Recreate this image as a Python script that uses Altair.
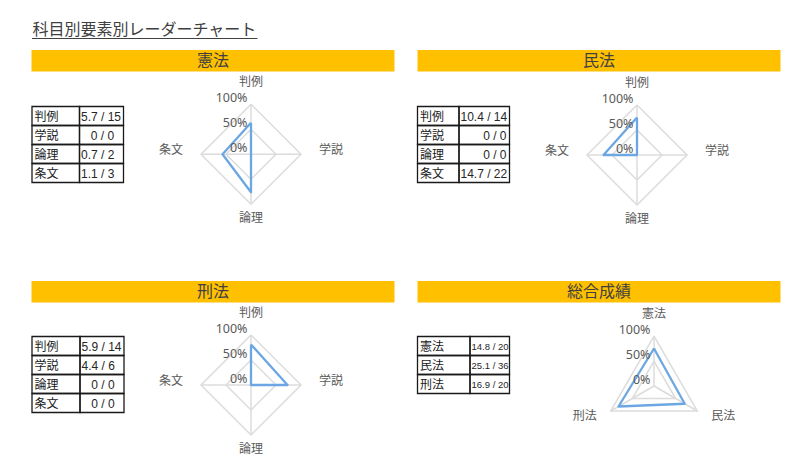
import math
import altair as alt
import pandas as pd

# ---------------- data ----------------
TITLE = "科目別要素別レーダーチャート"
ELEMENTS = ["判例", "学説", "論理", "条文"]
SUBJECTS = ["憲法", "民法", "刑法"]
TOTAL_HEADER = "総合成績"

KENPO_SCORES = ["5.7 / 15", "0 / 0", "0.7 / 2", "1.1 / 3"]
MINPO_SCORES = ["10.4 / 14", "0 / 0", "0 / 0", "14.7 / 22"]
KEIHO_SCORES = ["5.9 / 14", "4.4 / 6", "0 / 0", "0 / 0"]
TOTAL_SCORES = ["14.8 / 20", "25.1 / 36", "16.9 / 20"]

# share of each element as drawn on the radar
KENPO_RATIO = [0.63, 0.0, 0.76, 0.57]
MINPO_RATIO = [0.75, 0.0, 0.0, 0.67]
KEIHO_RATIO = [0.81, 0.73, 0.0, 0.0]
TOTAL_RATIO = [0.75, 0.71, 0.82]

TICK_VALUES = [0.0, 0.5, 1.0]
TICK_LABELS = ["0%", "50%", "100%"]
GRID_RINGS = [0.5, 1.0]

# ---------------- layout / style ----------------
W, H = 794, 454
R = 50
ROW_H = 19
ORANGE = "#FFC000"
BLUE = "#6CA7E3"
GRID = "#DCDCDC"
DARK = "#404040"
GREY = "#595959"
JP = "Noto Sans CJK JP"

PANELS = [
    dict(header=SUBJECTS[0], cats=ELEMENTS, ratio=KENPO_RATIO, scores=KENPO_SCORES,
         bar=(31.5, 394.5, 50.0, 71.5), cols=(32.0, 79.5, 123.5), top=106.5,
         center=(251.0, 154.3), align=["left", "center", "left", "left"], vsize=12),
    dict(header=SUBJECTS[1], cats=ELEMENTS, ratio=MINPO_RATIO, scores=MINPO_SCORES,
         bar=(417.5, 780.5, 50.0, 71.5), cols=(417.5, 459.0, 509.5), top=106.5,
         center=(637.0, 155.0), align=["left", "right", "right", "left"], vsize=12),
    dict(header=SUBJECTS[2], cats=ELEMENTS, ratio=KEIHO_RATIO, scores=KEIHO_SCORES,
         bar=(31.5, 394.5, 281.0, 302.5), cols=(32.0, 80.0, 124.0), top=336.5,
         center=(251.0, 385.0), align=["left", "left", "center", "center"], vsize=12),
    dict(header=TOTAL_HEADER, cats=SUBJECTS, ratio=TOTAL_RATIO, scores=TOTAL_SCORES,
         bar=(417.5, 780.5, 281.0, 302.5), cols=(417.5, 470.0, 509.5), top=336.5,
         center=(654.0, 386.0), align=["left", "left", "left"], vsize=9.5),
]

bars, headers, cells, labels, values = [], [], [], [], []
rings, spokes, poly, cats, ticks = [], [], [], [], []

for p_i, p in enumerate(PANELS):
    x0, x1, y0, y1 = p["bar"]
    bars.append(dict(px=x0, px2=x1, py=y0, py2=y1))
    headers.append(dict(px=(x0 + x1) / 2, py=(y0 + y1) / 2 + 0.5, text=p["header"]))
    c0, c1, c2 = p["cols"]
    for i, (cat, sc, al) in enumerate(zip(p["cats"], p["scores"], p["align"])):
        ty = p["top"] + i * ROW_H
        cells.append(dict(px=c0, px2=c1, py=ty, py2=ty + ROW_H))
        cells.append(dict(px=c1, px2=c2, py=ty, py2=ty + ROW_H))
        cy_row = ty + ROW_H / 2 + 0.5
        labels.append(dict(px=c0 + 2.5, py=cy_row, text=cat))
        ax = {"left": c1 + 1.5, "center": (c1 + c2) / 2 + 1, "right": c2 - 3}[al]
        values.append(dict(px=ax, py=cy_row, text=sc, fs=p["vsize"], al=al))
    cx, cy = p["center"]
    n = len(p["cats"])
    angles = [2 * math.pi * k / n for k in range(n)]
    for lvl in GRID_RINGS:
        for k in range(n + 1):
            a = angles[k % n]
            rings.append(dict(px=cx + R * lvl * math.sin(a), py=cy - R * lvl * math.cos(a),
                              grp=f"{p_i}-{lvl}", ord=k))
    for k, a in enumerate(angles):
        spokes.append(dict(px=cx, py=cy, px2=cx + R * math.sin(a), py2=cy - R * math.cos(a)))
        cats.append(dict(px=cx + 80 * math.sin(a), py=cy - 68 * math.cos(a) - 4,
                         text=p["cats"][k]))
    for k in range(n + 1):
        a = angles[k % n]
        v = p["ratio"][k % n]
        poly.append(dict(px=cx + R * v * math.sin(a), py=cy - R * v * math.cos(a),
                         grp=str(p_i), ord=k))
    for v, t in zip(TICK_VALUES, TICK_LABELS):
        ticks.append(dict(px=cx - 3.5, py=cy - R * v - 6, text=t))

XS = alt.Scale(domain=[8, 8 + W], nice=False, zero=False)
YS = alt.Scale(domain=[8, 8 + H], nice=False, zero=False, reverse=True)


def xy(**extra):
    enc = dict(x=alt.X("px:Q", scale=XS, axis=None), y=alt.Y("py:Q", scale=YS, axis=None))
    enc.update(extra)
    return enc


df = pd.DataFrame

title = alt.Chart(df([dict(px=32.5, py=29.5, text=TITLE)])).mark_text(
    align="left", baseline="middle", font=JP, fontSize=16, color=DARK
).encode(**xy(text="text:N"))
underline = alt.Chart(df([dict(px=32.0, px2=257.5, py=38.5)])).mark_rule(
    color=DARK, strokeWidth=1
).encode(**xy(x2=alt.X2("px2")))

bar_l = alt.Chart(df(bars)).mark_rect(color=ORANGE).encode(
    **xy(x2=alt.X2("px2"), y2=alt.Y2("py2")))
head_l = alt.Chart(df(headers)).mark_text(
    align="center", baseline="middle", font=JP, fontSize=16, color=DARK
).encode(**xy(text="text:N"))

cell_l = alt.Chart(df(cells)).mark_rect(
    fill="white", fillOpacity=0, stroke="#1a1a1a", strokeWidth=1.3
).encode(**xy(x2=alt.X2("px2"), y2=alt.Y2("py2")))
lab_l = alt.Chart(df(labels)).mark_text(
    align="left", baseline="middle", font=JP, fontSize=12, color="#1a1a1a"
).encode(**xy(text="text:N"))

vdf = df(values)
val_layers = []
for al in ["left", "center", "right"]:
    sub = vdf[vdf["al"] == al]
    if len(sub):
        val_layers.append(
            alt.Chart(sub).mark_text(
                align=al, baseline="middle", font="Liberation Sans", color="#262626"
            ).encode(**xy(text="text:N", size=alt.Size("fs:Q", scale=None)))
        )

ring_l = alt.Chart(df(rings)).mark_line(color=GRID, strokeWidth=1.5).encode(
    **xy(detail="grp:N", order=alt.Order("ord:Q")))
spoke_l = alt.Chart(df(spokes)).mark_rule(color=GRID, strokeWidth=1.5).encode(
    **xy(x2=alt.X2("px2"), y2=alt.Y2("py2")))
poly_l = alt.Chart(df(poly)).mark_line(
    color=BLUE, strokeWidth=2.3, strokeJoin="round"
).encode(**xy(detail="grp:N", order=alt.Order("ord:Q")))
cat_l = alt.Chart(df(cats)).mark_text(
    align="center", baseline="middle", font=JP, fontSize=12, color=GREY
).encode(**xy(text="text:N"))
tick_l = alt.Chart(df(ticks)).mark_text(
    align="right", baseline="middle", font="Noto Sans", fontSize=12.5, color=GREY
).encode(**xy(text="text:N"))

chart = alt.layer(
    bar_l, head_l, title, underline, cell_l, lab_l, *val_layers,
    ring_l, spoke_l, poly_l, cat_l, tick_l
).properties(
    width=W, height=H, padding=0, background="white",
    autosize=alt.AutoSizeParams(type="none"),
).configure_view(stroke=None)

chart.save("out.html", embed_options={"renderer": "svg", "actions": False})
